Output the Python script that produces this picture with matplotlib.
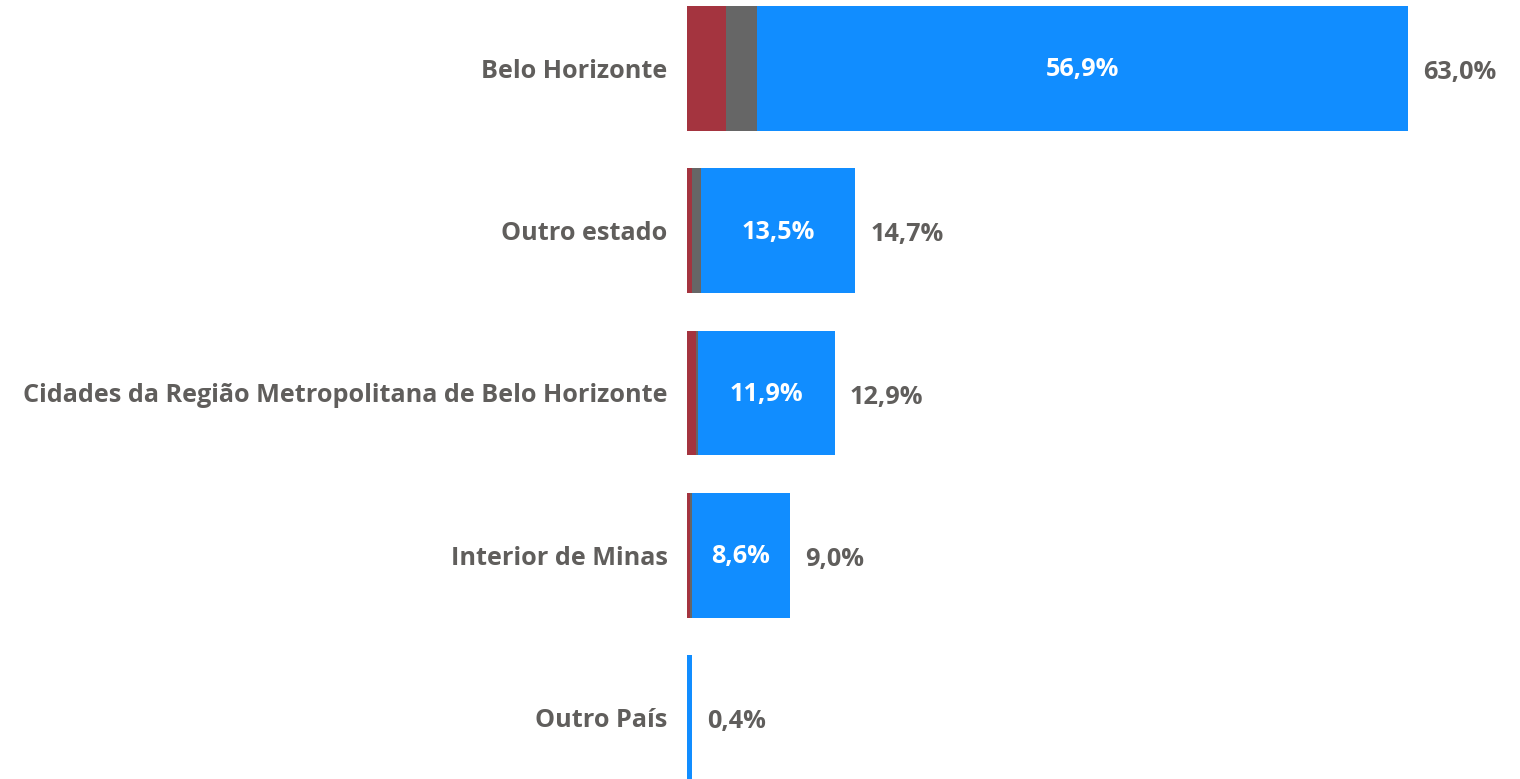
import matplotlib.pyplot as plt

categorias = ['Belo Horizonte', 'Outro estado',
              'Cidades da Região Metropolitana de Belo Horizonte',
              'Interior de Minas', 'Outro País']
vermelho = [3.4, 0.4, 0.8, 0.3, 0.0]
cinza = [2.7, 0.8, 0.2, 0.1, 0.0]
azul = [56.9, 13.5, 11.9, 8.6, 0.4]
totais = ['63,0%', '14,7%', '12,9%', '9,0%', '0,4%']
rotulos_azul = ['56,9%', '13,5%', '11,9%', '8,6%', '']

plt.rcParams['font.family'] = ['Open Sans', 'DejaVu Sans']

fig = plt.figure(figsize=(15.2, 7.79), dpi=100)
ax = fig.add_axes([687 / 1520, 0, 1 - 687 / 1520, 1])

y = list(range(len(categorias)))
h = 0.77
ax.barh(y, vermelho, height=h, color='#A4343F')
ax.barh(y, cinza, height=h, left=vermelho, color='#666666')
esq = [a + b for a, b in zip(vermelho, cinza)]
ax.barh(y, azul, height=h, left=esq, color='#118DFF')

cor_txt = '#605E5C'
fs = 18.2
peso = 'bold'
for i in y:
    fim = esq[i] + azul[i]
    if rotulos_azul[i]:
        ax.annotate(rotulos_azul[i], (esq[i] + azul[i] / 2, i), xytext=(0, -1),
                    textcoords='offset points', ha='center', va='center',
                    color='white', fontsize=fs, fontweight=peso)
    ax.annotate(totais[i], (fim, i), xytext=(11, -3), textcoords='offset points',
                ha='left', va='center', color=cor_txt, fontsize=fs, fontweight=peso)

ax.set_xlim(0, 833 / 11.444)
ax.set_ylim(4.379, -0.422)
ax.set_yticks(y)
ax.set_yticklabels(categorias, color=cor_txt, fontsize=fs, fontweight=peso)
ax.tick_params(axis='y', length=0, pad=14)
ax.set_xticks([])
for s in ax.spines.values():
    s.set_visible(False)

fig.savefig('out.png', dpi=100)
